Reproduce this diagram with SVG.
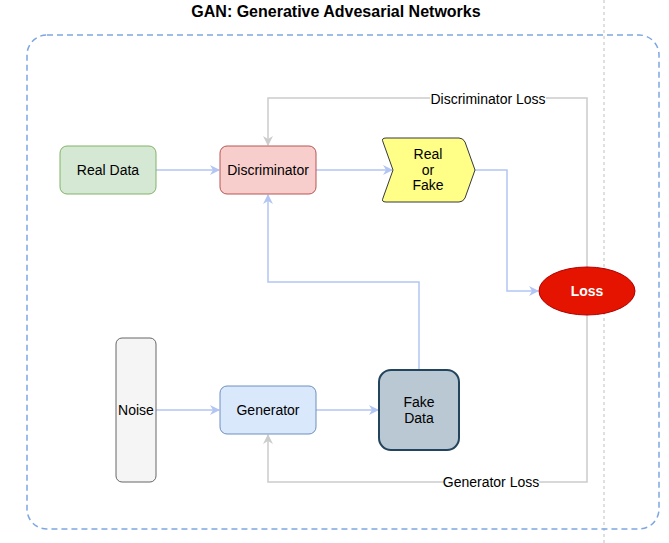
<svg xmlns="http://www.w3.org/2000/svg" width="669" height="543" viewBox="0 0 669 543">
<style>
text{font-family:"Liberation Sans",Arial,sans-serif;font-size:14px;fill:#000;text-anchor:middle;dominant-baseline:central}
.blue{fill:none;stroke:#b3c5f3;stroke-width:1.5}
.gray{fill:none;stroke:#cccccc;stroke-width:1.5}
.lbl{fill:#fff;stroke:none}
</style>
<defs>
<marker id="ab" viewBox="0 0 10 10" refX="9" refY="5" markerWidth="10" markerHeight="10" markerUnits="userSpaceOnUse" orient="auto">
<path d="M0,0 L10,5 L0,10 L3,5 Z" fill="#b3c5f3"/>
</marker>
<marker id="ag" viewBox="0 0 10 10" refX="9" refY="5" markerWidth="10" markerHeight="10" markerUnits="userSpaceOnUse" orient="auto">
<path d="M0,0 L10,5 L0,10 L3,5 Z" fill="#cccccc"/>
</marker>
</defs>
<rect width="669" height="543" fill="#fff"/>
<text x="336" y="11" style="font-size:16px;font-weight:bold">GAN: Generative Advesarial Networks</text>
<line x1="604" y1="0" x2="604" y2="543" stroke="#c0c0c0" stroke-width="1" stroke-dasharray="3 3"/>
<rect x="27" y="35" width="632" height="494" rx="20" fill="none" stroke="#7ea6e0" stroke-width="1.5" stroke-dasharray="6 4"/>
<g id="connectors">
<path class="blue" d="M156,170 H219" marker-end="url(#ab)"/>
<path class="blue" d="M316,170 H392" marker-end="url(#ab)"/>
<path class="blue" d="M475,170 H507 V291 H538" marker-end="url(#ab)"/>
<path class="blue" d="M156,410 H219" marker-end="url(#ab)"/>
<path class="blue" d="M316,410 H378" marker-end="url(#ab)"/>
<path class="blue" d="M419,370 V282 H268 V195" marker-end="url(#ab)"/>
<path class="gray" d="M587,267 V98 H268 V145" marker-end="url(#ag)"/>
<path class="gray" d="M587,315 V482 H268 V435" marker-end="url(#ag)"/>
<rect class="lbl" x="430" y="91" width="116" height="16"/>
<text x="488" y="99">Discriminator Loss</text>
<rect class="lbl" x="444" y="474" width="95" height="16"/>
<text x="491" y="482">Generator Loss</text>
</g>
<g id="real-data">
<rect x="60" y="146" width="96" height="48" rx="7" fill="#d5e8d4" stroke="#82b366"/>
<text x="108" y="170">Real Data</text>
</g>
<g id="discriminator">
<rect x="220" y="146" width="96" height="48" rx="7" fill="#f8cecc" stroke="#b85450"/>
<text x="268" y="170">Discriminator</text>
</g>
<g id="real-or-fake">
<path d="M386,138 H459 Q463,138 465,142 L475,170 L465,198 Q463,202 459,202 H386 Q381,202 383,198 L393,170 L383,142 Q381,138 386,138 Z" fill="#ffff88" stroke="#36393d"/>
<text x="428" y="154">Real</text>
<text x="428" y="170">or</text>
<text x="428" y="185">Fake</text>
</g>
<g id="loss">
<ellipse cx="587" cy="291" rx="48" ry="24" fill="#e51400" stroke="#b20000"/>
<text x="587" y="291" style="fill:#fff;font-weight:bold">Loss</text>
</g>
<g id="noise">
<rect x="116" y="338" width="40" height="144" rx="6" fill="#f5f5f5" stroke="#666666"/>
<text x="136" y="410">Noise</text>
</g>
<g id="generator">
<rect x="220" y="386" width="96" height="48" rx="7" fill="#dae8fc" stroke="#6c8ebf"/>
<text x="268" y="410">Generator</text>
</g>
<g id="fake-data">
<rect x="379" y="370" width="80" height="80" rx="12" fill="#bac8d3" stroke="#23445d" stroke-width="2"/>
<text x="419" y="402">Fake</text>
<text x="419" y="418">Data</text>
</g>
</svg>
